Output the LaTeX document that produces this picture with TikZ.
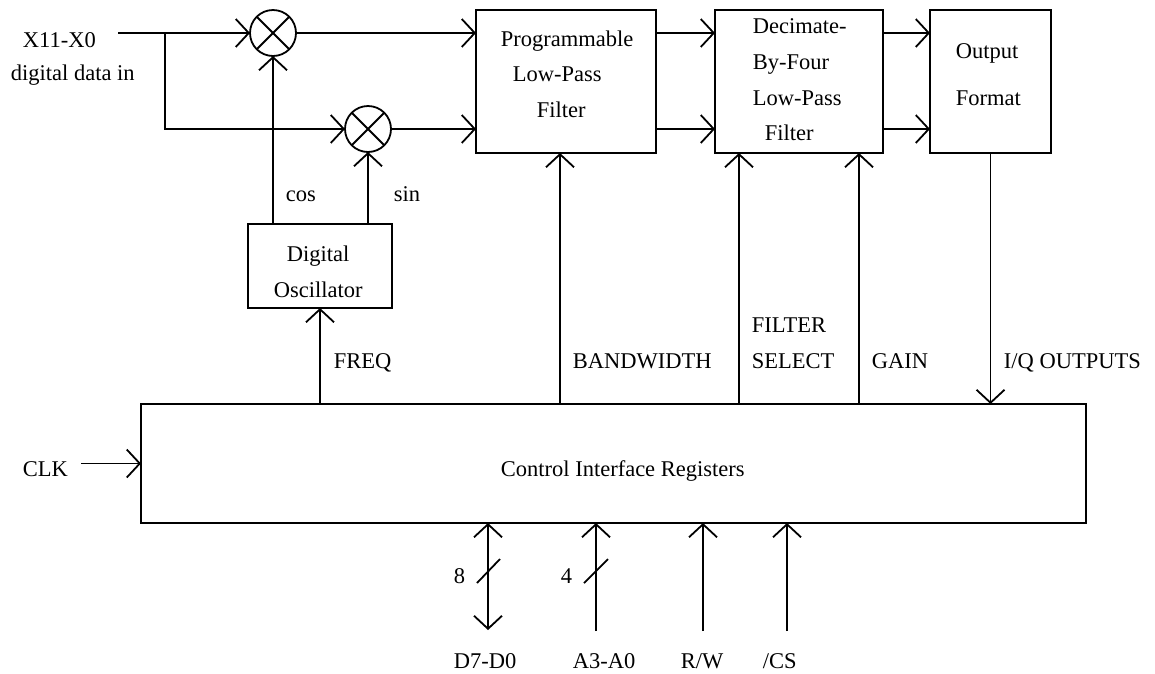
\documentclass[tikz,border=0pt]{standalone}
\usepackage{fontspec}
\setmainfont{Liberation Serif}
\usetikzlibrary{arrows.meta,calc}
\begin{document}
\begin{tikzpicture}[x=1pt,y=-1pt,
  line width=1.8pt,
  font=\fontsize{22.5pt}{35pt}\selectfont,
  box/.style={draw,rectangle,inner sep=0pt,outer sep=0pt},
  mix/.style={draw,circle,minimum size=46pt,inner sep=0pt,outer sep=0pt},
  txt/.style={inner sep=0pt,anchor=base west},
  arr/.style={-{Straight Barb[length=13pt,width=28pt,line width=1.8pt]}},
  darr/.style={{Straight Barb[length=13pt,width=28pt,line width=1.8pt]}-{Straight Barb[length=13pt,width=28pt,line width=1.8pt]}},
  slash/.style={line width=1.8pt}
]
\useasboundingbox (0,0) rectangle (1155,673);

% blocks
\node[box,minimum width=180pt,minimum height=143pt] (plp) at (566,81.5) {};
\node[box,minimum width=168pt,minimum height=143pt] (dbf) at (799,81.5) {};
\node[box,minimum width=121pt,minimum height=143pt] (of) at (990.5,81.5) {};
\node[box,minimum width=144pt,minimum height=84pt] (osc) at (320,266) {};
\node[box,minimum width=945pt,minimum height=119pt] (cir) at (613.5,463.5) {};
\node[mix] (m1) at (273,33) {};
\node[mix] (m2) at (368,129) {};
\draw (m1.45) -- (m1.225) (m1.135) -- (m1.315);
\draw (m2.45) -- (m2.225) (m2.135) -- (m2.315);

% block texts
\node[txt] (plpa) at (500,46) {Programmable};
\node[txt] (plpb) at (512,81) {Low-Pass};
\node[txt] (plpc) at (536,117) {Filter};
\node[txt] (dbfa) at (752,33) {Decimate-};
\node[txt] (dbfb) at (752,69) {By-Four};
\node[txt] (dbfc) at (752,105) {Low-Pass};
\node[txt] (dbfd) at (764,140) {Filter};
\node[txt] (ofa) at (955,58) {Output};
\node[txt] (ofb) at (955,105) {Format};
\node[txt] (osca) at (286,261) {Digital};
\node[txt] (oscb) at (273,297) {Oscillator};
\node[txt] (cirt) at (500,476) {Control Interface Registers};

% labels
\node[txt] (xin) at (22,47) {X11-X0};
\node[txt] (xin2) at (10,80) {digital data in};
\node[txt] (cos) at (285,201) {cos};
\node[txt] (sin) at (393,201) {sin};
\node[txt] (freq) at (333,368) {FREQ};
\node[txt] (bw) at (572,368) {BANDWIDTH};
\node[txt] (fs1) at (751,332) {FILTER};
\node[txt] (fs2) at (751,368) {SELECT};
\node[txt] (gain) at (871,368) {GAIN};
\node[txt] (iq) at (1003,368) {I/Q OUTPUTS};
\node[txt] (clk) at (22,476) {CLK};
\node[txt] (n8) at (453,583) {8};
\node[txt] (n4) at (560,583) {4};
\node[txt] (dd) at (453,668) {D7-D0};
\node[txt] (aa) at (572,668) {A3-A0};
\node[txt] (rw) at (680,668) {R/W};
\node[txt] (cs) at (762,668) {/CS};

% coordinates
\coordinate (in) at (118,33);
\coordinate (br) at (165,33);
\coordinate (bwx) at (560,0);
\coordinate (fsx) at (739,0);
\coordinate (gx) at (859,0);
\coordinate (clks) at (81,463.5);
\coordinate (dbot) at (488,630);
\coordinate (abot) at (596,631);
\coordinate (rbot) at (703,631);
\coordinate (cbot) at (787,631);

% connectors
\draw[arr] (in) -- (m1.west);
\draw[arr] (br) |- (m2.west);
\draw[arr] (m1.south |- osc.north) -- (m1.south);
\draw[arr] (m2.south |- osc.north) -- (m2.south);
\draw[arr] (m1.east) -- (m1.east -| plp.west);
\draw[arr] (m2.east) -- (m2.east -| plp.west);
\draw[arr] (plp.east |- m1) -- (dbf.west |- m1);
\draw[arr] (plp.east |- m2) -- (dbf.west |- m2);
\draw[arr] (dbf.east |- m1) -- (of.west |- m1);
\draw[arr] (dbf.east |- m2) -- (of.west |- m2);
\draw[arr] (of.south) -- (of.south |- cir.north);
\draw[arr] (osc.south |- cir.north) -- (osc.south);
\draw[arr] (bwx |- cir.north) -- (bwx |- plp.south);
\draw[arr] (fsx |- cir.north) -- (fsx |- dbf.south);
\draw[arr] (gx |- cir.north) -- (gx |- dbf.south);
\draw[arr] (clks) -- (cir.west);
\draw[darr] (dbot) -- (dbot |- cir.south);
\draw[arr] (abot) -- (abot |- cir.south);
\draw[arr] (rbot) -- (rbot |- cir.south);
\draw[arr] (cbot) -- (cbot |- cir.south);
% bus slashes
\draw[slash] (477,583) -- (500,559);
\draw[slash] (584,583) -- (608,559);
\end{tikzpicture}
\end{document}
